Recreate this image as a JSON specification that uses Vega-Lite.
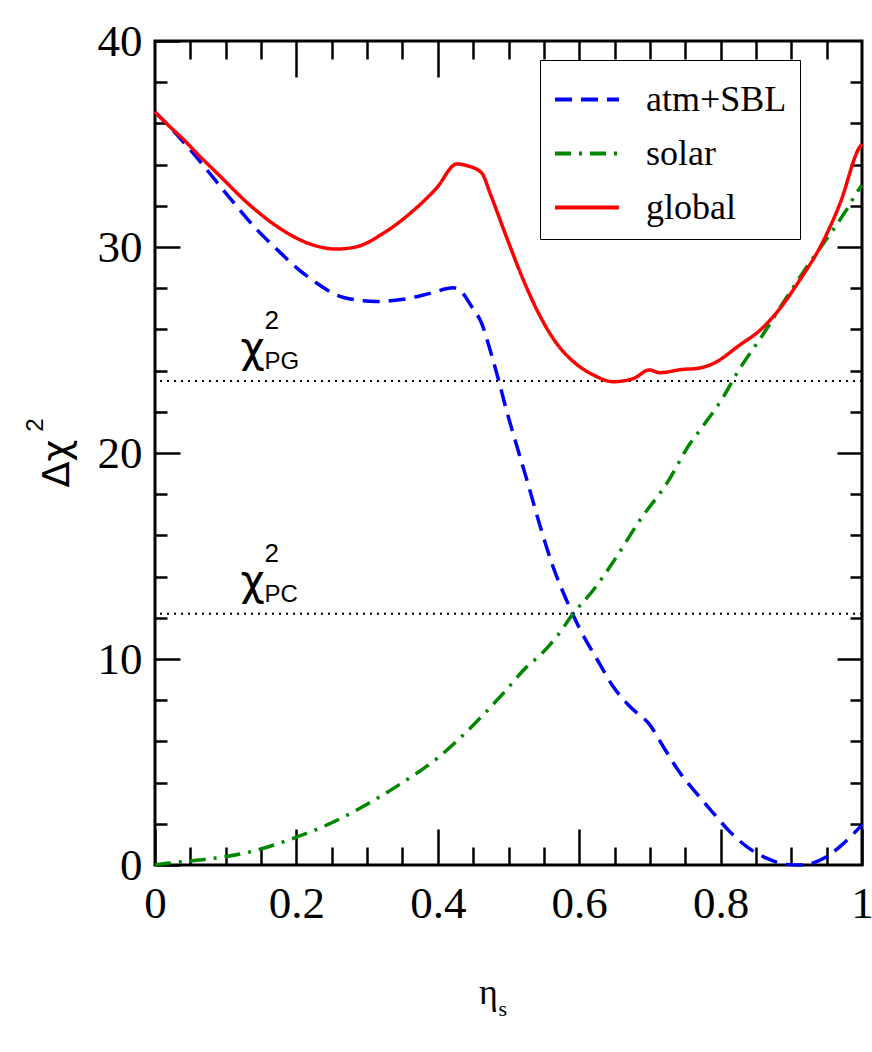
{
  "$schema": "https://vega.github.io/schema/vega-lite/v6.json",
  "width": 707,
  "height": 824,
  "autosize": {"type": "none"},
  "padding": {"left": 155, "top": 41, "right": 10, "bottom": 187},
  "background": "white",
  "view": {"stroke": "black", "strokeWidth": 3, "fill": "white"},
  "config": {"font": "Liberation Serif, Times New Roman, serif"},
  "datasets": {
    "curves": [
      {"eta": 0, "chi2": 36.55, "series": "atm+SBL"},
      {"eta": 0.017, "chi2": 35.97, "series": "atm+SBL"},
      {"eta": 0.04, "chi2": 35.11, "series": "atm+SBL"},
      {"eta": 0.064, "chi2": 34.14, "series": "atm+SBL"},
      {"eta": 0.087, "chi2": 33.17, "series": "atm+SBL"},
      {"eta": 0.116, "chi2": 31.96, "series": "atm+SBL"},
      {"eta": 0.144, "chi2": 30.85, "series": "atm+SBL"},
      {"eta": 0.172, "chi2": 29.9, "series": "atm+SBL"},
      {"eta": 0.2, "chi2": 29.0, "series": "atm+SBL"},
      {"eta": 0.229, "chi2": 28.24, "series": "atm+SBL"},
      {"eta": 0.257, "chi2": 27.67, "series": "atm+SBL"},
      {"eta": 0.285, "chi2": 27.43, "series": "atm+SBL"},
      {"eta": 0.314, "chi2": 27.35, "series": "atm+SBL"},
      {"eta": 0.351, "chi2": 27.46, "series": "atm+SBL"},
      {"eta": 0.389, "chi2": 27.75, "series": "atm+SBL"},
      {"eta": 0.422, "chi2": 28.02, "series": "atm+SBL"},
      {"eta": 0.433, "chi2": 27.85, "series": "atm+SBL"},
      {"eta": 0.448, "chi2": 27.1, "series": "atm+SBL"},
      {"eta": 0.462, "chi2": 26.3, "series": "atm+SBL"},
      {"eta": 0.474, "chi2": 25.0, "series": "atm+SBL"},
      {"eta": 0.486, "chi2": 23.54, "series": "atm+SBL"},
      {"eta": 0.497, "chi2": 22.09, "series": "atm+SBL"},
      {"eta": 0.512, "chi2": 20.31, "series": "atm+SBL"},
      {"eta": 0.526, "chi2": 18.69, "series": "atm+SBL"},
      {"eta": 0.545, "chi2": 16.42, "series": "atm+SBL"},
      {"eta": 0.563, "chi2": 14.48, "series": "atm+SBL"},
      {"eta": 0.582, "chi2": 12.86, "series": "atm+SBL"},
      {"eta": 0.601, "chi2": 11.45, "series": "atm+SBL"},
      {"eta": 0.625, "chi2": 10.0, "series": "atm+SBL"},
      {"eta": 0.648, "chi2": 8.66, "series": "atm+SBL"},
      {"eta": 0.672, "chi2": 7.68, "series": "atm+SBL"},
      {"eta": 0.7, "chi2": 6.8, "series": "atm+SBL"},
      {"eta": 0.719, "chi2": 5.74, "series": "atm+SBL"},
      {"eta": 0.743, "chi2": 4.45, "series": "atm+SBL"},
      {"eta": 0.766, "chi2": 3.48, "series": "atm+SBL"},
      {"eta": 0.79, "chi2": 2.51, "series": "atm+SBL"},
      {"eta": 0.813, "chi2": 1.62, "series": "atm+SBL"},
      {"eta": 0.837, "chi2": 0.89, "series": "atm+SBL"},
      {"eta": 0.865, "chi2": 0.33, "series": "atm+SBL"},
      {"eta": 0.893, "chi2": 0.03, "series": "atm+SBL"},
      {"eta": 0.91, "chi2": 0.0, "series": "atm+SBL"},
      {"eta": 0.922, "chi2": 0.03, "series": "atm+SBL"},
      {"eta": 0.95, "chi2": 0.4, "series": "atm+SBL"},
      {"eta": 0.974, "chi2": 1.05, "series": "atm+SBL"},
      {"eta": 1.0, "chi2": 1.95, "series": "atm+SBL"},
      {"eta": 0, "chi2": 0.0, "series": "solar"},
      {"eta": 0.017, "chi2": 0.08, "series": "solar"},
      {"eta": 0.073, "chi2": 0.28, "series": "solar"},
      {"eta": 0.13, "chi2": 0.6, "series": "solar"},
      {"eta": 0.2, "chi2": 1.35, "series": "solar"},
      {"eta": 0.25, "chi2": 2.05, "series": "solar"},
      {"eta": 0.3, "chi2": 2.95, "series": "solar"},
      {"eta": 0.35, "chi2": 4.0, "series": "solar"},
      {"eta": 0.4, "chi2": 5.2, "series": "solar"},
      {"eta": 0.436, "chi2": 6.31, "series": "solar"},
      {"eta": 0.464, "chi2": 7.28, "series": "solar"},
      {"eta": 0.497, "chi2": 8.5, "series": "solar"},
      {"eta": 0.526, "chi2": 9.63, "series": "solar"},
      {"eta": 0.545, "chi2": 10.19, "series": "solar"},
      {"eta": 0.568, "chi2": 11.08, "series": "solar"},
      {"eta": 0.592, "chi2": 12.22, "series": "solar"},
      {"eta": 0.62, "chi2": 13.35, "series": "solar"},
      {"eta": 0.653, "chi2": 14.97, "series": "solar"},
      {"eta": 0.686, "chi2": 16.75, "series": "solar"},
      {"eta": 0.724, "chi2": 18.53, "series": "solar"},
      {"eta": 0.757, "chi2": 20.47, "series": "solar"},
      {"eta": 0.771, "chi2": 21.12, "series": "solar"},
      {"eta": 0.804, "chi2": 22.73, "series": "solar"},
      {"eta": 0.823, "chi2": 23.87, "series": "solar"},
      {"eta": 0.858, "chi2": 25.65, "series": "solar"},
      {"eta": 0.894, "chi2": 27.59, "series": "solar"},
      {"eta": 0.922, "chi2": 29.04, "series": "solar"},
      {"eta": 0.959, "chi2": 30.83, "series": "solar"},
      {"eta": 0.978, "chi2": 31.8, "series": "solar"},
      {"eta": 0.995, "chi2": 32.77, "series": "solar"},
      {"eta": 1.0, "chi2": 33.0, "series": "solar"},
      {"eta": 0, "chi2": 36.55, "series": "global"},
      {"eta": 0.017, "chi2": 35.97, "series": "global"},
      {"eta": 0.04, "chi2": 35.23, "series": "global"},
      {"eta": 0.064, "chi2": 34.38, "series": "global"},
      {"eta": 0.087, "chi2": 33.61, "series": "global"},
      {"eta": 0.134, "chi2": 32.04, "series": "global"},
      {"eta": 0.18, "chi2": 30.83, "series": "global"},
      {"eta": 0.219, "chi2": 30.15, "series": "global"},
      {"eta": 0.257, "chi2": 29.9, "series": "global"},
      {"eta": 0.285, "chi2": 30.01, "series": "global"},
      {"eta": 0.323, "chi2": 30.67, "series": "global"},
      {"eta": 0.361, "chi2": 31.64, "series": "global"},
      {"eta": 0.398, "chi2": 32.85, "series": "global"},
      {"eta": 0.427, "chi2": 34.03, "series": "global"},
      {"eta": 0.441, "chi2": 33.95, "series": "global"},
      {"eta": 0.462, "chi2": 33.6, "series": "global"},
      {"eta": 0.474, "chi2": 32.6, "series": "global"},
      {"eta": 0.497, "chi2": 30.5, "series": "global"},
      {"eta": 0.521, "chi2": 28.4, "series": "global"},
      {"eta": 0.545, "chi2": 26.62, "series": "global"},
      {"eta": 0.568, "chi2": 25.32, "series": "global"},
      {"eta": 0.592, "chi2": 24.43, "series": "global"},
      {"eta": 0.62, "chi2": 23.79, "series": "global"},
      {"eta": 0.648, "chi2": 23.46, "series": "global"},
      {"eta": 0.677, "chi2": 23.62, "series": "global"},
      {"eta": 0.699, "chi2": 24.03, "series": "global"},
      {"eta": 0.714, "chi2": 23.9, "series": "global"},
      {"eta": 0.747, "chi2": 24.06, "series": "global"},
      {"eta": 0.766, "chi2": 24.1, "series": "global"},
      {"eta": 0.79, "chi2": 24.35, "series": "global"},
      {"eta": 0.827, "chi2": 25.24, "series": "global"},
      {"eta": 0.856, "chi2": 25.97, "series": "global"},
      {"eta": 0.884, "chi2": 27.02, "series": "global"},
      {"eta": 0.912, "chi2": 28.4, "series": "global"},
      {"eta": 0.941, "chi2": 30.01, "series": "global"},
      {"eta": 0.969, "chi2": 32.12, "series": "global"},
      {"eta": 0.997, "chi2": 34.87, "series": "global"},
      {"eta": 1.0, "chi2": 35.0, "series": "global"}
    ],
    "levels": [
      {"name": "PG", "value": 23.5},
      {"name": "PC", "value": 12.2}
    ],
    "ytitle": [
      {"sup": "2"}
    ]
  },
  "resolve": {"axis": {"x": "independent", "y": "independent"}},
  "layer": [
    {
      "data": {"name": "levels"},
      "mark": {"type": "rule", "color": "black", "strokeWidth": 2, "strokeDash": [2, 5]},
      "encoding": {
        "y": {"field": "value", "type": "quantitative", "axis": null, "scale": {"domain": [0, 40], "nice": false}}
      }
    },
    {
      "data": {"name": "curves"},
      "mark": {"type": "line", "strokeWidth": 3.5, "interpolate": "monotone"},
      "encoding": {
        "x": {
          "field": "eta", "type": "quantitative",
          "scale": {"domain": [0, 1], "nice": false, "zero": false},
          "axis": {
            "orient": "bottom", "values": [0, 0.2, 0.4, 0.6, 0.8, 1], "format": "~g",
            "tickSize": -36, "tickWidth": 2.5, "tickColor": "black", "domain": false, "grid": false,
            "labelFont": "Liberation Serif, Times New Roman, serif", "labelFontSize": 45, "labelColor": "black",
            "labelPadding": 52, "labelFlush": false, "labelOverlap": false,
            "title": "η", "titleFont": "Liberation Serif, Times New Roman, serif", "titleFontSize": 36, "titleFontWeight": "normal",
            "titleColor": "black", "titleX": 333, "titleY": 138, "titleAlign": "center", "titleBaseline": "alphabetic"
          }
        },
        "y": {
          "field": "chi2", "type": "quantitative",
          "scale": {"domain": [0, 40], "nice": false, "zero": false},
          "axis": {
            "orient": "left", "values": [0, 10, 20, 30, 40],
            "tickSize": -25, "tickWidth": 2.5, "tickColor": "black", "domain": false, "grid": false,
            "labelFont": "Liberation Serif, Times New Roman, serif", "labelFontSize": 45, "labelColor": "black",
            "labelPadding": 38, "labelFlush": false, "labelOverlap": false,
            "title": "Δχ", "titleFont": "DejaVu Sans", "titleFontSize": 38, "titleFontWeight": "normal",
            "titleColor": "black", "titleX": -87, "titleY": 422, "titleAngle": -90, "titleAlign": "center", "titleBaseline": "alphabetic"
          }
        },
        "color": {
          "field": "series", "type": "nominal",
          "scale": {"domain": ["atm+SBL", "solar", "global"], "range": ["#0000ff", "#008800", "#ff0000"]},
          "legend": {
            "orient": "none", "legendX": 385, "legendY": 19, "title": null,
            "strokeColor": "black", "fillColor": "white", "padding": 13,
            "labelFont": "Liberation Serif, Times New Roman, serif", "labelFontSize": 36, "labelColor": "black",
            "symbolType": "M-1.0,0H1.61", "symbolSize": 2401, "symbolStrokeWidth": 4,
            "labelOffset": 40, "rowPadding": 9
          }
        },
        "strokeDash": {
          "field": "series", "type": "nominal",
          "scale": {"domain": ["atm+SBL", "solar", "global"], "range": [[17, 9], [16, 8, 3, 8], [1, 0]]},
          "legend": {
            "orient": "none", "legendX": 385, "legendY": 19, "title": null,
            "strokeColor": "black", "fillColor": "white", "padding": 13,
            "labelFont": "Liberation Serif, Times New Roman, serif", "labelFontSize": 36, "labelColor": "black",
            "symbolType": "M-1.0,0H1.61", "symbolSize": 2401, "symbolStrokeWidth": 4,
            "labelOffset": 40, "rowPadding": 9
          }
        }
      }
    },
    {
      "data": {"name": "levels"},
      "mark": {"type": "text", "text": "χ", "font": "DejaVu Sans", "fontSize": 42, "align": "left", "baseline": "alphabetic", "dy": -19, "color": "black"},
      "encoding": {
        "x": {
          "datum": 0.121, "type": "quantitative",
          "axis": {
            "orient": "bottom", "values": [0.05, 0.1, 0.15, 0.25, 0.3, 0.35, 0.45, 0.5, 0.55, 0.65, 0.7, 0.75, 0.85, 0.9, 0.95],
            "tickSize": -18, "tickWidth": 2.5, "tickColor": "black", "domain": false, "grid": false, "labels": false,
            "title": "s", "titleFont": "Liberation Serif, Times New Roman, serif", "titleFontSize": 22, "titleFontWeight": "normal",
            "titleColor": "black", "titleX": 343, "titleY": 150, "titleAlign": "left", "titleBaseline": "alphabetic"
          }
        },
        "y": {
          "field": "value", "type": "quantitative",
          "axis": {
            "orient": "left", "values": [2, 4, 6, 8, 12, 14, 16, 18, 22, 24, 26, 28, 32, 34, 36, 38],
            "tickSize": -12, "tickWidth": 2.5, "tickColor": "black", "domain": false, "grid": false, "labels": false, "title": null
          }
        }
      }
    },
    {
      "data": {"name": "levels"},
      "mark": {"type": "text", "font": "Liberation Sans", "fontSize": 24, "align": "left", "baseline": "alphabetic", "dy": -12, "color": "black"},
      "encoding": {
        "x": {
          "datum": 0.155, "type": "quantitative",
          "axis": {
            "orient": "top", "values": [0.2, 0.4, 0.6, 0.8],
            "tickSize": -36, "tickWidth": 2.5, "tickColor": "black", "domain": false, "grid": false, "labels": false, "title": null
          }
        },
        "y": {
          "field": "value", "type": "quantitative",
          "axis": {
            "orient": "right", "values": [10, 20, 30],
            "tickSize": -25, "tickWidth": 2.5, "tickColor": "black", "domain": false, "grid": false, "labels": false, "title": null
          }
        },
        "text": {"field": "name"}
      }
    },
    {
      "data": {"name": "levels"},
      "mark": {"type": "text", "text": "2", "font": "Liberation Sans", "fontSize": 26, "align": "left", "baseline": "alphabetic", "dy": -52, "color": "black"},
      "encoding": {
        "x": {
          "datum": 0.155, "type": "quantitative",
          "axis": {
            "orient": "top", "values": [0.05, 0.1, 0.15, 0.25, 0.3, 0.35, 0.45, 0.5, 0.55, 0.65, 0.7, 0.75, 0.85, 0.9, 0.95],
            "tickSize": -18, "tickWidth": 2.5, "tickColor": "black", "domain": false, "grid": false, "labels": false, "title": null
          }
        },
        "y": {
          "field": "value", "type": "quantitative",
          "axis": {
            "orient": "right", "values": [2, 4, 6, 8, 12, 14, 16, 18, 22, 24, 26, 28, 32, 34, 36, 38],
            "tickSize": -12, "tickWidth": 2.5, "tickColor": "black", "domain": false, "grid": false, "labels": false, "title": null
          }
        }
      }
    },
    {
      "data": {"name": "ytitle"},
      "mark": {"type": "text", "font": "Liberation Sans", "fontSize": 24, "angle": 270, "align": "center", "baseline": "middle", "color": "black"},
      "encoding": {
        "x": {"datum": -0.168, "type": "quantitative", "axis": null},
        "y": {"datum": 21.36, "type": "quantitative", "axis": null},
        "text": {"field": "sup"}
      }
    }
  ]
}
